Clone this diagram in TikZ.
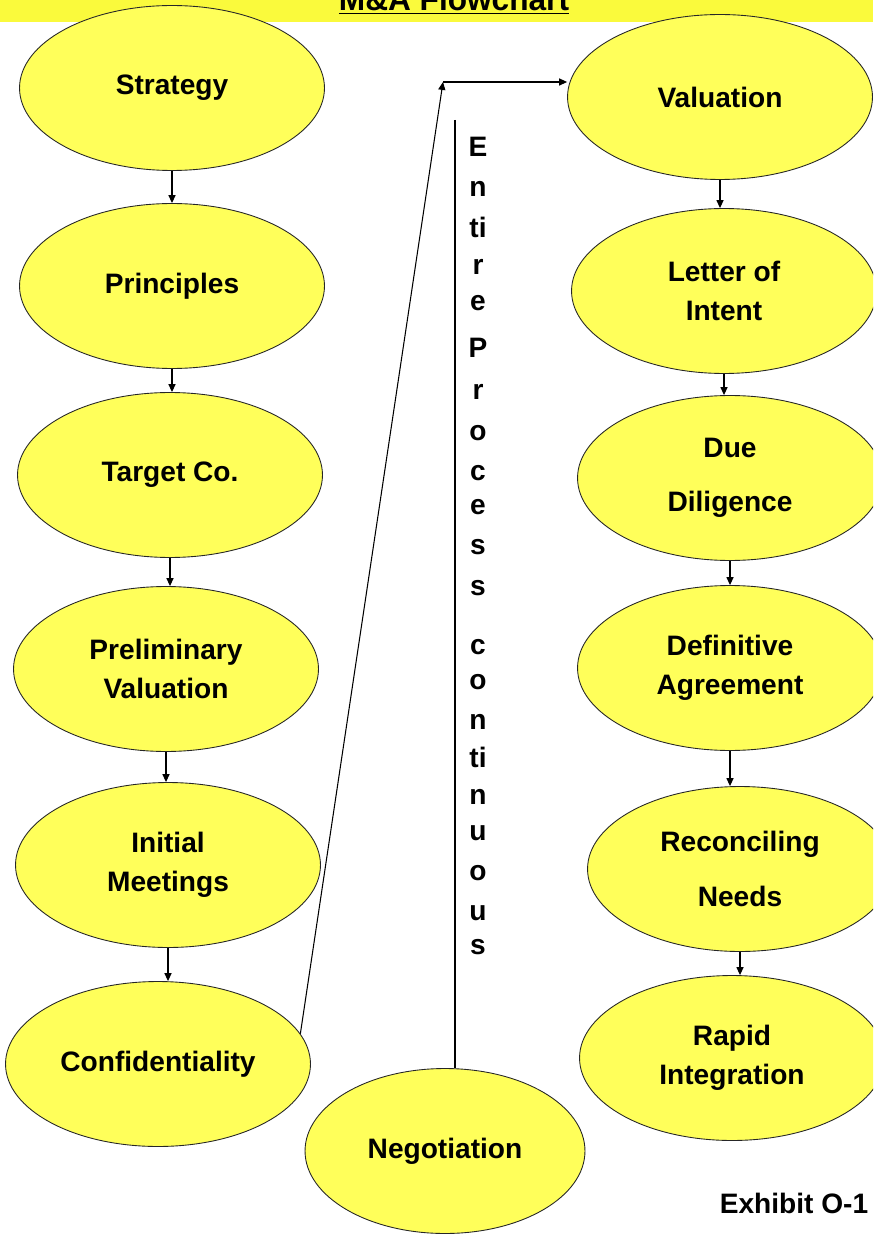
\documentclass[tikz,border=0pt]{standalone}
\usepackage{fontspec}
\setmainfont{Liberation Sans}
\usetikzlibrary{shapes.geometric,arrows.meta}
\definecolor{bandyel}{RGB}{250,250,60}
\definecolor{ovalyel}{RGB}{255,255,90}

\begin{document}
\begin{tikzpicture}[x=0.02cm,y=-0.02cm,
	>={Triangle[length=4.5pt,width=4pt]},
	oval/.style={ellipse,draw=black!85,line width=0.5pt,fill=ovalyel,minimum width=6.1cm,minimum height=3.3cm,inner sep=0pt,align=center,font=\bfseries\fontsize{16}{22}\selectfont},
	vtext/.style={font=\bfseries\fontsize{16}{20}\selectfont,inner sep=0pt},
	link/.style={->,line width=0.6pt}]
			\useasboundingbox (0,0) rectangle (873,1236);
			\clip (0,0) rectangle (873,1236);
			\fill[bandyel] (0,0) rectangle (873,22);
			\node[anchor=base,font=\bfseries\fontsize{18}{20}\selectfont] (title) at (454,11) {\underline{M\&A Flowchart}};

			\node[oval] (strat) at (172,88) {Strategy};
			\node[oval] (princ) at (172,286) {Principles};
			\node[oval] (target) at (170,475) {Target Co.};
			\node[oval] (prelim) at (166,669) {Preliminary\\Valuation};
			\node[oval] (meet) at (168,865) {Initial\\Meetings};
			\node[oval] (conf) at (158,1064) {\raisebox{-8pt}{Confidentiality}};
			\node[oval,minimum width=5.6cm] (negot) at (445,1151) {Negotiation};

			\node[oval] (val) at (720,97) {Valuation};
			\node[oval] (loi) at (724,291) {Letter of\\Intent};
			\node[oval] (dd) at (730,478) {Due\\[9pt]Diligence};
			\node[oval] (defag) at (730,668) {Definitive\\Agreement};
			\node[oval] (recon) at (740,869) {Reconciling\\[9pt]Needs};
			\node[oval] (rapid) at (732,1058) {Rapid\\Integration};

			\foreach \a/\b in {strat/princ,princ/target,target/prelim,prelim/meet,meet/conf,val/loi,loi/dd,dd/defag,defag/recon,recon/rapid}{
				\draw [link] (\a.south) -- (\a.south |- \b.north);
			}

			\coordinate (corner) at (443,82);
			\coordinate (ptop) at (455,120);
			\draw [link] (conf.12) -- (corner);
			\draw [link] (corner) -- (corner -| val.west);
			\draw [line width=0.6pt] (ptop) -- (ptop |- negot.north);

			\foreach \ch/\yy [count=\k] in {E/147,n/189,ti/227,r/267,e/303,P/348,r/392,o/433,c/473,e/507,s/547,s/588,c/647,o/682,n/722,ti/757,n/797,u/833,o/873,u/913,s/947}{
				\node[vtext] (ltr\k) at (478,\yy) {\ch};
			}

			\node[anchor=base,font=\bfseries\fontsize{16}{20}\selectfont] (exhibit) at (794,1213) {Exhibit O-1};
			\end{tikzpicture}
\end{document}
